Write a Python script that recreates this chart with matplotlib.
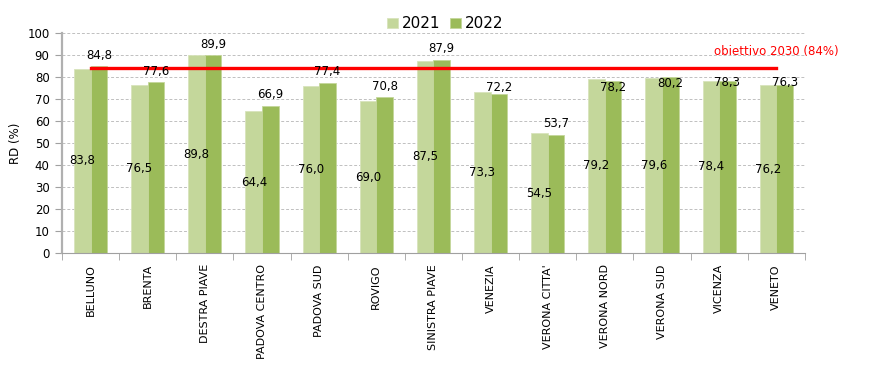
import matplotlib
matplotlib.use("Agg")
import matplotlib.pyplot as plt
import numpy as np

categories = ["BELLUNO", "BRENTA", "DESTRA PIAVE", "PADOVA CENTRO", "PADOVA SUD",
              "ROVIGO", "SINISTRA PIAVE", "VENEZIA", "VERONA CITTA'", "VERONA NORD",
              "VERONA SUD", "VICENZA", "VENETO"]
rd_2021 = [83.8, 76.5, 89.8, 64.4, 76.0, 69.0, 87.5, 73.3, 54.5, 79.2, 79.6, 78.4, 76.2]
rd_2022 = [84.8, 77.6, 89.9, 66.9, 77.4, 70.8, 87.9, 72.2, 53.7, 78.2, 80.2, 78.3, 76.3]
target = 84

# vertical offsets (points) of the 2022 labels relative to bar top, as placed in the original
lab_off_2022 = [8, 8, 8, 8, 8, 8, 8, 5, 8, -5, -5, -1, 2]

plt.rcParams["font.family"] = ["DejaVu Sans"]

fig = plt.figure(figsize=(8.75, 3.84), dpi=100)
ax = fig.add_axes([0.0709, 0.341, 0.849, 0.573])

x = np.arange(len(categories))
w = 0.29
c21 = "#c4d79b"
c22 = "#9bbb59"
ax.bar(x - w / 2, rd_2021, w, color=c21, edgecolor="#d8e4bc", linewidth=0.6, label="2021", zorder=2)
ax.bar(x + w / 2, rd_2022, w, color=c22, edgecolor="#c4d79b", linewidth=0.6, label="2022", zorder=2)

ax.plot([x[0], x[-1]], [target, target], color="#ff0000", linewidth=2.4, zorder=4)
ax.text(x[-1], target + 7.4, "obiettivo 2030 (84%)", color="#ff0000",
        fontsize=8.5, ha="center", va="center", clip_on=False)

for xi, v in zip(x, rd_2021):
    ax.text(xi - w / 2, v / 2, f"{v:.1f}".replace(".", ","), ha="center", va="center",
            fontsize=8.5, zorder=5)
for xi, v, off in zip(x, rd_2022, lab_off_2022):
    ax.annotate(f"{v:.1f}".replace(".", ","), (xi + w / 2, v), xytext=(0, off),
                textcoords="offset points", ha="center", va="center", fontsize=8.5, zorder=5)

ax.set_xlim(-0.5, len(categories) - 0.5)
ax.set_ylim(0, 100)
ax.set_yticks(np.arange(0, 101, 10))
ax.yaxis.grid(True, color="#c0c0c0", linestyle=(0, (3, 2)), linewidth=0.7, zorder=0)
ax.set_axisbelow(True)

ax.set_xticks(x)
ax.set_xticklabels(categories, rotation=90, fontsize=8)
ax.tick_params(axis="x", length=0, pad=8)
ax.set_xticks(np.arange(-0.5, len(categories), 1), minor=True)
ax.tick_params(axis="x", which="minor", length=5, color="#a0a0a0", direction="out")
ax.tick_params(axis="y", labelsize=8.5, length=5, color="#a0a0a0", pad=4)

for s in ["top", "right"]:
    ax.spines[s].set_visible(False)
ax.spines["left"].set_color("#b0b0b0")
ax.spines["left"].set_linewidth(1.6)
ax.spines["bottom"].set_color("#a0a0a0")
ax.spines["bottom"].set_linewidth(0.8)

ax.set_ylabel("RD (%)", fontsize=8.5, labelpad=4)

ax.legend(loc="lower center", bbox_to_anchor=(0.516, 0.98), ncol=2, frameon=False,
          fontsize=11, handlelength=0.7, handleheight=0.7, handletextpad=0.3,
          columnspacing=0.6, borderaxespad=0)

fig.savefig("out.png", dpi=100)
